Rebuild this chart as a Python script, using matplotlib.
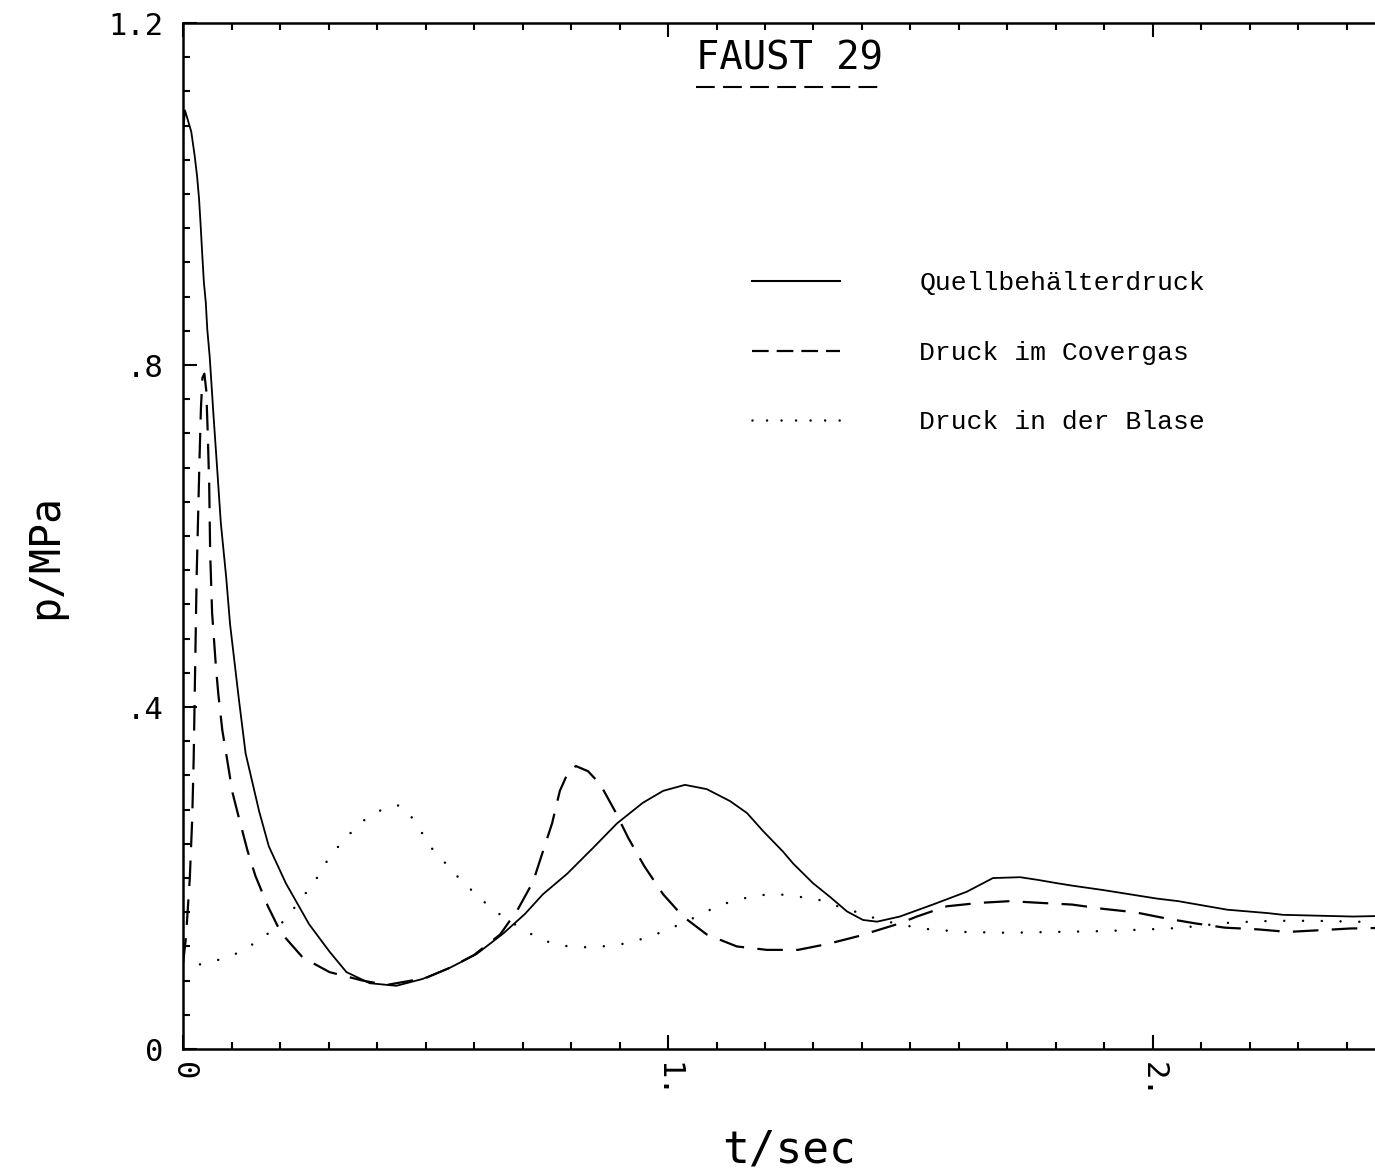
"""FAUST 29: Druckverläufe Quellbehälter / Covergas / Blase."""
import numpy as np
import matplotlib
matplotlib.use('Agg')
import matplotlib.pyplot as plt
from matplotlib.lines import Line2D
from matplotlib.ticker import FixedLocator, MultipleLocator, FixedFormatter

plt.rcParams['font.family'] = 'DejaVu Sans Mono'

# Quellbehälterdruck (MPa) über t (s)
t_quell = [0.0, 0.004, 0.017, 0.024, 0.029, 0.033, 0.036, 0.039, 0.043, 0.047, 0.05,
           0.055, 0.063, 0.071, 0.078, 0.089, 0.097, 0.115, 0.129, 0.157, 0.177, 0.212,
           0.233, 0.26, 0.302, 0.337, 0.385, 0.44, 0.494, 0.55, 0.605, 0.66, 0.705,
           0.742, 0.792, 0.845, 0.895, 0.948, 0.99, 1.035, 1.08, 1.128, 1.163, 1.196,
           1.237, 1.258, 1.299, 1.334, 1.369, 1.402, 1.431, 1.478, 1.546, 1.616, 1.67,
           1.726, 1.761, 1.802, 1.835, 1.897, 2.008, 2.052, 2.153, 2.237, 2.268, 2.412,
           2.5]
p_quell = [1.07, 1.098, 1.073, 1.045, 1.021, 0.995, 0.967, 0.936, 0.897, 0.873, 0.842,
           0.81, 0.74, 0.674, 0.615, 0.552, 0.497, 0.41, 0.346, 0.278, 0.237, 0.194,
           0.173, 0.146, 0.114, 0.09, 0.077, 0.074, 0.082, 0.095, 0.111, 0.135, 0.158,
           0.181, 0.205, 0.235, 0.264, 0.288, 0.302, 0.309, 0.304, 0.29, 0.276, 0.255,
           0.231, 0.217, 0.194, 0.178, 0.161, 0.151, 0.149, 0.155, 0.169, 0.184, 0.2,
           0.201, 0.198, 0.194, 0.191, 0.186, 0.176, 0.173, 0.163, 0.159, 0.157, 0.155,
           0.156]

# Druck im Covergas
t_cover = [0.0, 0.006, 0.014, 0.019, 0.022, 0.024, 0.026, 0.028, 0.031, 0.034, 0.037,
           0.040, 0.044, 0.048, 0.051, 0.054, 0.056, 0.06, 0.068, 0.073, 0.081, 0.09,
           0.102, 0.115, 0.133, 0.149, 0.175, 0.202, 0.247, 0.302, 0.371, 0.42, 0.5,
           0.55, 0.6, 0.654, 0.691, 0.722, 0.742, 0.761, 0.777, 0.795, 0.81, 0.835,
           0.86, 0.891, 0.918, 0.951, 0.99, 1.031, 1.08, 1.142, 1.204, 1.268, 1.33,
           1.392, 1.478, 1.513, 1.575, 1.643, 1.705, 1.767, 1.833, 1.897, 1.963, 2.025,
           2.087, 2.148, 2.216, 2.278, 2.344, 2.406, 2.5]
p_cover = [0.10, 0.13, 0.2, 0.27, 0.34, 0.41, 0.48, 0.55, 0.62, 0.69, 0.75,
           0.785, 0.79, 0.77, 0.72, 0.66, 0.58, 0.51, 0.446, 0.414, 0.373, 0.342,
           0.30, 0.271, 0.232, 0.203, 0.167, 0.136, 0.107, 0.09, 0.08, 0.075, 0.083,
           0.095, 0.11, 0.134, 0.164, 0.196, 0.231, 0.264, 0.302, 0.325, 0.331, 0.325,
           0.31, 0.278, 0.247, 0.214, 0.181, 0.155, 0.134, 0.12, 0.116, 0.116, 0.123,
           0.132, 0.147, 0.155, 0.167, 0.171, 0.173, 0.171, 0.169, 0.164, 0.16, 0.153,
           0.147, 0.142, 0.14, 0.137, 0.139, 0.141, 0.142]

# Druck in der Blase
t_blase = [0.035, 0.085, 0.124, 0.16, 0.2, 0.225, 0.25, 0.276, 0.297, 0.323, 0.351,
           0.384, 0.422, 0.445, 0.462, 0.487, 0.511, 0.54, 0.569, 0.6, 0.633, 0.664,
           0.701, 0.738, 0.779, 0.823, 0.864, 0.907, 0.948, 0.988, 1.029, 1.066, 1.105,
           1.146, 1.188, 1.229, 1.272, 1.315, 1.355, 1.396, 1.437, 1.478, 1.522, 1.565,
           1.608, 1.7, 1.8, 1.9, 1.99, 2.033, 2.076, 2.161, 2.247, 2.332, 2.416, 2.5]
p_blase = [0.099, 0.106, 0.115, 0.129, 0.145, 0.162, 0.18, 0.2, 0.22, 0.239, 0.256,
           0.273, 0.283, 0.285, 0.279, 0.258, 0.236, 0.218, 0.2, 0.183, 0.166, 0.153,
           0.14, 0.128, 0.121, 0.119, 0.12, 0.123, 0.129, 0.137, 0.147, 0.157, 0.168,
           0.175, 0.18, 0.181, 0.178, 0.174, 0.166, 0.159, 0.151, 0.146, 0.141, 0.139,
           0.137, 0.136, 0.137, 0.138, 0.14, 0.141, 0.143, 0.148, 0.15, 0.15, 0.149,
           0.148]

labels = ['Quellbehälterdruck', 'Druck im Covergas', 'Druck in der Blase']
x_ticks, x_ticklabels = [0, 1, 2], ['0', '1.', '2.']
y_ticks, y_ticklabels = [0, 0.4, 0.8, 1.2], ['0', '.4', '.8', '1.2']

fig = plt.figure(figsize=(13.75, 11.72), dpi=100)
ax = fig.add_axes([0.1331, 0.1049, 0.8818, 0.8754])

ax.plot(t_quell, p_quell, color='k', lw=1.3)
ax.plot(t_cover, p_cover, color='k', lw=1.6, dashes=(11.5, 6))
ax.plot(t_blase, p_blase, color='k', lw=1.8, dashes=(0.01, 7.5),
        dash_capstyle='round')

ax.set_xlim(0, 2.5)
ax.set_ylim(0, 1.2)
ax.xaxis.set_major_locator(FixedLocator(x_ticks))
ax.xaxis.set_major_formatter(FixedFormatter(x_ticklabels))
ax.xaxis.set_minor_locator(MultipleLocator(0.1))
ax.yaxis.set_major_locator(FixedLocator(y_ticks))
ax.yaxis.set_major_formatter(FixedFormatter(y_ticklabels))
ax.yaxis.set_minor_locator(MultipleLocator(0.04))

ax.tick_params(which='both', direction='in', top=True, right=False, width=1.5)
ax.tick_params(which='major', length=10)
ax.tick_params(which='minor', length=5)
ax.tick_params(axis='y', labelsize=22, pad=14)
ax.tick_params(axis='x', labelsize=22, pad=9, labelrotation=-90)
for side in ('left', 'bottom', 'top'):
    ax.spines[side].set_linewidth(1.8)
ax.spines['right'].set_visible(False)

ax.set_xlabel('t/sec', fontsize=32, va='center')
ax.xaxis.set_label_coords(0.5, -0.098)
ax.set_ylabel('p/MPa', fontsize=30, va='center')
ax.yaxis.set_label_coords(-0.114, 0.48)

title = ax.text(0.5, 0.965, 'FAUST 29', transform=ax.transAxes,
                ha='center', va='center', fontsize=28)

# legend keys with shorter dash pattern than the curves
handles = [Line2D([], [], color='k', lw=1.5),
           Line2D([], [], color='k', lw=1.6, dashes=(7.5, 3.6)),
           Line2D([], [], color='k', lw=1.8, dashes=(0.01, 5.8), dash_capstyle='round')]
ax.legend(handles, labels, loc='upper left', bbox_to_anchor=(0.469, 0.758),
          frameon=False, borderaxespad=0, borderpad=0, handlelength=3.35,
          handletextpad=3.0, labelspacing=1.72,
          prop={'family': 'Liberation Mono', 'size': 19})

# dashed underline below the title
fig.canvas.draw()
bb = title.get_window_extent().transformed(ax.transAxes.inverted())
ax.plot([bb.x0, bb.x1], [0.9376, 0.9376], transform=ax.transAxes, color='k',
        lw=1.5, dashes=(9, 4), clip_on=False)

fig.savefig('out.png', dpi=100, facecolor='white')
